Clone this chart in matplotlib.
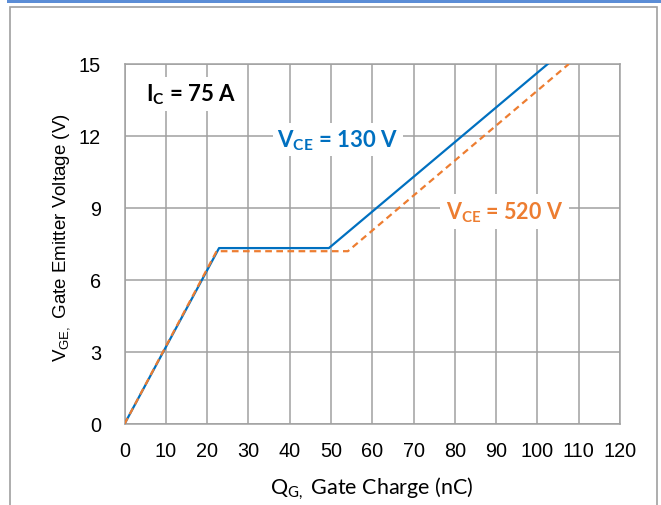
import matplotlib.pyplot as plt
from matplotlib.patches import Rectangle

plt.rcParams['mathtext.default'] = 'regular'

# gate charge curves
qg_130 = [0, 22.9, 49.5, 102.5]
vge_130 = [0, 7.33, 7.33, 15]

qg_520 = [0, 22.3, 54.1, 107.6]
vge_520 = [0, 7.2, 7.2, 15]

x_ticks = list(range(0, 121, 10))
y_ticks = [0, 3, 6, 9, 12, 15]

blue = '#0070C0'
orange = '#ED7D31'
grid_col = '#A0A0A0'

fig = plt.figure(figsize=(6.61, 5.06), dpi=100)

# header bar and outer frame
fig.patches.append(Rectangle((7 / 661, 1 - 4 / 506), 654 / 661, 4 / 506,
                             transform=fig.transFigure, facecolor='#5B8DD6',
                             edgecolor='none'))
fig.patches.append(Rectangle((10 / 661, -0.05), 647 / 661, 1.05 - 8 / 506,
                             transform=fig.transFigure, facecolor='none',
                             edgecolor='#A0A0A0', linewidth=1.2))

ax = fig.add_axes([124.5 / 661, 81 / 506, 495.5 / 661, 360 / 506])

ax.plot(qg_130, vge_130, color=blue, lw=1.6, zorder=3)
ax.plot(qg_520, vge_520, color=orange, lw=1.6, ls=(0, (3, 2)), zorder=3)

ax.set_xlim(0, 120)
ax.set_ylim(0, 15)
ax.set_xticks(x_ticks)
ax.set_yticks(y_ticks)
ax.grid(True, color=grid_col, lw=1.1)
ax.set_axisbelow(True)
for s in ax.spines.values():
    s.set_color(grid_col)
    s.set_linewidth(1.1)
ax.tick_params(length=0, labelsize=14.3)
ax.tick_params(axis='y', pad=17)
ax.tick_params(axis='x', pad=12)
for lbl in ax.get_xticklabels() + ax.get_yticklabels():
    lbl.set_fontfamily('Liberation Sans')

ax.set_xlabel('Q$_{G,}$ Gate Charge (nC)', fontsize=15.5, family='Lato', labelpad=11)
fig.text(62 / 661, 1 - 238 / 506, 'V$_{GE,}$ Gate Emitter Voltage (V)', rotation=90,
         ha='center', va='center', fontsize=13.5, family='Liberation Sans')

ax.text(5.3, 13.75, 'I$_C$ = 75 A', fontsize=16, fontweight='bold', family='Lato',
        color='black', va='center', ha='left',
        bbox=dict(facecolor='white', edgecolor='none', pad=3))
ax.text(51.7, 11.85, 'V$_{CE}$ = 130 V', fontsize=16, fontweight='bold', family='Lato',
        color=blue, va='center', ha='center',
        bbox=dict(facecolor='white', edgecolor='none', pad=3))
ax.text(92.0, 8.85, 'V$_{CE}$ = 520 V', fontsize=15.5, fontweight='bold', family='Lato',
        color=orange, va='center', ha='center',
        bbox=dict(facecolor='white', edgecolor='none', pad=4))

fig.savefig('out.png', dpi=100)
